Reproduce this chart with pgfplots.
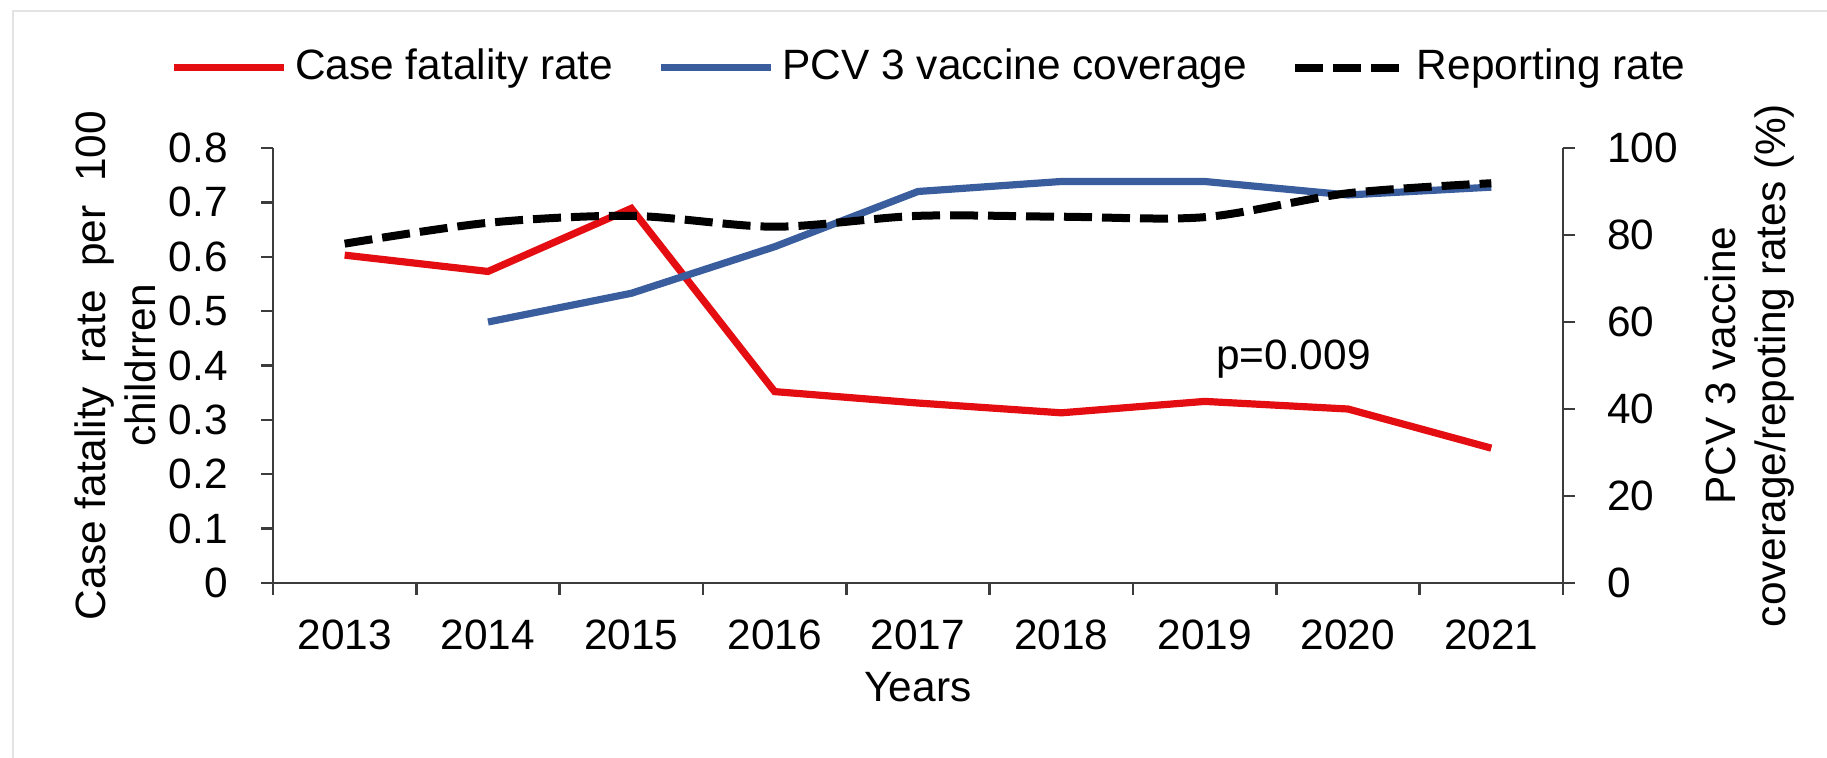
\documentclass[border=0pt]{standalone}
\usepackage{fontspec}
\setmainfont{Liberation Sans}
\usepackage{pgfplots}
\pgfplotsset{compat=1.18}
\definecolor{cfrred}{RGB}{228,14,18}
\definecolor{pcvblue}{RGB}{58,93,158}
\definecolor{axgray}{RGB}{60,60,60}
\begin{document}
\begin{tikzpicture}[font=\fontsize{10.6}{12.7}\selectfont]
\useasboundingbox (0,0) rectangle (456.75pt,189.5pt);
\draw[gray!22, line width=0.6pt] (3.25pt,0pt) -- (3.25pt,186.75pt) -- (456.75pt,186.75pt);
\pgfplotsset{
  common/.style={
    scale only axis, width=322.5pt, height=108.75pt,
    at={(68.25pt,43.75pt)}, anchor=south west,
    xmin=-0.5, xmax=8.5,
    /pgf/number format/assume math mode=true,
    tick align=outside, major tick length=3pt,
    axis line style={axgray, line width=0.6pt},
    tick style={axgray, line width=0.6pt},
    ticklabel style={font=\fontsize{10.6}{12.7}\selectfont},
  }
}
\begin{axis}[common,
  axis x line*=bottom, axis y line*=left,
  ymin=0, ymax=0.8,
  ytick={0,0.1,0.2,0.3,0.4,0.5,0.6,0.7,0.8},
  yticklabels={0,0.1,0.2,0.3,0.4,0.5,0.6,0.7,0.8},
  yticklabel style={xshift=-4.8pt},
  xtick={-0.5,0.5,1.5,2.5,3.5,4.5,5.5,6.5,7.5,8.5},
  xticklabels={},
  extra x ticks={0,1,2,3,4,5,6,7,8},
  extra x tick labels={2013,2014,2015,2016,2017,2018,2019,2020,2021},
  extra x tick style={major tick length=0pt, xticklabel style={yshift=-5.75pt}},
  xlabel={Years},
  xlabel style={at={(axis description cs:0.5,-0.2046)}, anchor=north, inner sep=0pt},
  ylabel={Case fatality~~rate~~per~~100\\childrren},
  ylabel style={at={(axis description cs:-0.0899,0.5)}, anchor=south, inner sep=0pt, align=center},
  legend columns=3,
  legend style={draw=none, fill=none, at={(axis description cs:0.5107,1.185)}, anchor=center,
    font=\fontsize{10.6}{12.7}\selectfont,
    /tikz/every even column/.append style={column sep=9pt}},
  legend image code/.code={\draw[#1] (0pt,0pt) -- (27.5pt,0pt);},
]
\addplot[cfrred, line width=1.8pt] coordinates {
 (0,0.603) (1,0.573) (2,0.689) (3,0.352) (4,0.331) (5,0.313) (6,0.334) (7,0.320) (8,0.248)};
\addlegendentry{Case fatality rate}
\addlegendimage{pcvblue, line width=1.8pt}
\addlegendentry{PCV 3 vaccine coverage}
\addlegendimage{black, line width=2pt, dash pattern=on 7pt off 2.5pt}
\addlegendentry{Reporting rate}
\node at (axis cs:6.62,0.412) {p=0.009};
\end{axis}
\begin{axis}[common,
  axis x line=none, axis y line*=right,
  ymin=0, ymax=100,
  ytick={0,20,40,60,80,100},
  yticklabel style={xshift=4.5pt},
  ylabel={PCV 3 vaccine\\coverage/repoting rates (\%)},
  ylabel style={at={(axis description cs:1.109,0.5)}, anchor=north, inner sep=0pt, align=center},
]
\addplot[pcvblue, line width=1.8pt] coordinates {
 (1,60) (2,66.6) (3,77.3) (4,90) (5,92.3) (6,92.3) (7,89.2) (8,91)};
\addplot[black, line width=2pt, dash pattern=on 7pt off 2.5pt, smooth] coordinates {
 (0,78) (1,82.8) (2,84.4) (3,81.9) (4,84.4) (5,84.2) (6,84.1) (7,89.6) (8,91.9)};
\end{axis}
\end{tikzpicture}
\end{document}
